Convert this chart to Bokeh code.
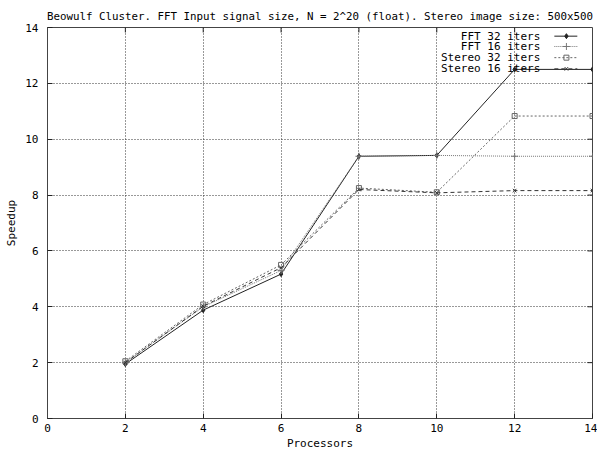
from bokeh.plotting import figure
from bokeh.models import Range1d, FixedTicker
from bokeh.core.properties import value
from bokeh.embed import file_html
from bokeh.resources import INLINE

# Speedup measurements per processor count
procs = [2, 4, 6, 8, 10, 12, 14]
fft_32 = [1.95, 3.88, 5.17, 9.39, 9.42, 12.50, 12.50]
fft_16 = [2.00, 4.00, 5.30, 9.39, 9.42, 9.39, 9.39]
stereo_32 = [2.05, 4.08, 5.50, 8.25, 8.10, 10.83, 10.83]
stereo_16 = [2.00, 4.02, 5.40, 8.20, 8.08, 8.16, 8.16]

series_names = ["FFT 32 iters", "FFT 16 iters", "Stereo 32 iters", "Stereo 16 iters"]
x_ticks = [0, 2, 4, 6, 8, 10, 12, 14]
y_ticks = [0, 2, 4, 6, 8, 10, 12, 14]

TITLE = "Beowulf Cluster. FFT Input signal size, N = 2^20 (float). Stereo image size: 500x500"
FONT = "DejaVu Sans Mono"
FS = "11px"

X_MIN, X_MAX, Y_MIN, Y_MAX = 0, 14, 0, 14

p = figure(width=597, height=452, output_backend="svg", toolbar_location=None,
           x_range=Range1d(X_MIN, X_MAX), y_range=Range1d(Y_MIN, Y_MAX),
           min_border_left=47, min_border_right=5, min_border_top=27,
           min_border_bottom=32, title=TITLE)

p.title.text_font = FONT
p.title.text_font_size = "10.8px"
p.title.text_font_style = "normal"
p.title.align = "center"
p.title.standoff = 9
p.title.text_color = "black"

p.outline_line_color = "#444444"
p.background_fill_color = "white"
p.border_fill_color = "white"

for ax, ticks in ((p.xaxis[0], x_ticks), (p.yaxis[0], y_ticks)):
    ax.ticker = FixedTicker(ticks=ticks)
    ax.axis_line_color = "#444444"
    ax.major_tick_in = 5
    ax.major_tick_out = 0
    ax.major_tick_line_color = "#222222"
    ax.minor_tick_line_color = None
    ax.major_label_text_font = FONT
    ax.major_label_text_font_size = FS
    ax.major_label_text_color = "black"
    ax.axis_label_text_font = FONT
    ax.axis_label_text_font_size = FS
    ax.axis_label_text_font_style = "normal"
    ax.axis_label_text_color = "black"

p.xaxis[0].axis_label = "Processors"
p.yaxis[0].axis_label = "Speedup"
p.xaxis[0].major_label_standoff = 5
p.yaxis[0].major_label_standoff = 9
p.xaxis[0].axis_label_standoff = 2
p.yaxis[0].axis_label_standoff = 4

# mirrored inward ticks on the top and right borders (about 5px long)
tick_len_x = 5 * (X_MAX - X_MIN) / 545
tick_len_y = 5 * (Y_MAX - Y_MIN) / 393
inner_x = [t for t in x_ticks if X_MIN < t < X_MAX]
inner_y = [t for t in y_ticks if Y_MIN < t < Y_MAX]
p.segment(x0=inner_x, y0=[Y_MAX] * len(inner_x), x1=inner_x,
          y1=[Y_MAX - tick_len_y] * len(inner_x), line_color="#222222", line_width=1)
p.segment(x0=[X_MAX] * len(inner_y), y0=inner_y, x1=[X_MAX - tick_len_x] * len(inner_y),
          y1=inner_y, line_color="#222222", line_width=1)

for g, ticks in ((p.xgrid[0], x_ticks), (p.ygrid[0], y_ticks)):
    g.ticker = FixedTicker(ticks=ticks)
    g.grid_line_color = "#333333"
    g.grid_line_dash = "1 2"
    g.grid_line_width = 1

styles = [
    dict(color="#222222", dash="solid", marker="diamond", size=5, fill="#222222"),
    dict(color="#777777", dash="1 1", marker="cross", size=7, fill=None),
    dict(color="#666666", dash="2 2", marker="square", size=5, fill=None),
    dict(color="#333333", dash="4 3", marker="x", size=5, fill=None),
]
all_series = [fft_32, fft_16, stereo_32, stereo_16]

for ys, st in zip(all_series, styles):
    p.line(procs, ys, line_color=st["color"], line_dash=st["dash"], line_width=1)
    p.scatter(procs, ys, marker=st["marker"], size=st["size"],
              line_color=st["color"], fill_color=st["fill"], line_width=1)

# key in the upper right corner: label, then line sample with marker
key_rows = [13.69, 13.32, 12.92, 12.52]
key_text_x = 12.66
key_line_x0, key_line_x1 = 13.02, 13.61
key_mark_x = 13.33
p.text(x=[key_text_x] * 4, y=key_rows, text=series_names,
       text_align="right", text_baseline="middle",
       text_font=value(FONT), text_font_size=FS, text_color="black")
for yk, st in zip(key_rows, styles):
    p.line([key_line_x0, key_line_x1], [yk, yk], line_color=st["color"],
           line_dash=st["dash"], line_width=1)
    p.scatter([key_mark_x], [yk], marker=st["marker"], size=st["size"],
              line_color=st["color"], fill_color=st["fill"], line_width=1)

open("out.html", "w").write(file_html(p, INLINE))
